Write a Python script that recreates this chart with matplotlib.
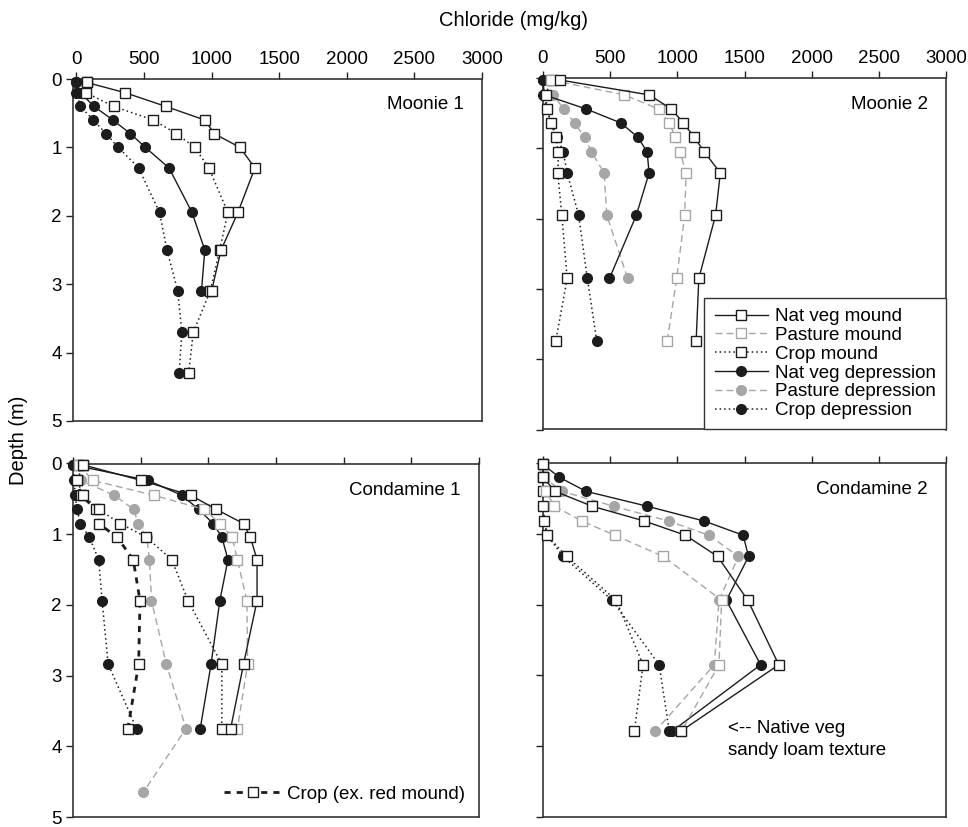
"""Chloride depth profiles — Moonie and Condamine sites, mound vs depression."""

import matplotlib

matplotlib.use("Agg")
import matplotlib.pyplot as plt

plt.rcParams["font.family"] = ["Liberation Sans", "DejaVu Sans"]
plt.rcParams["font.size"] = 13.5

# ---- data (chloride mg/kg vs depth m) ----
m1_depth = [0.05, 0.2, 0.4, 0.6, 0.8, 1.0, 1.3, 1.95, 2.5, 3.1, 3.7, 4.3]
m1_natveg_mound = [75, 360, 660, 950, 1020, 1210, 1320, 1195, 1070, 1000]
m1_crop_mound = [75, 70, 275, 570, 740, 875, 980, 1120, 1060, 990, 865, 830]
m1_natveg_dep = [0, 30, 130, 270, 400, 510, 685, 855, 950, 925]
m1_crop_dep = [0, 0, 30, 125, 220, 310, 460, 615, 670, 750, 780, 760]

m2_depth = [0.03, 0.24, 0.44, 0.64, 0.84, 1.05, 1.35, 1.95, 2.85, 3.74]
m2_natveg_mound = [130, 790, 955, 1045, 1125, 1200, 1320, 1285, 1160, 1140]
m2_pasture_mound = [60, 605, 860, 940, 985, 1020, 1065, 1055, 995, 925]
m2_crop_mound = [60, 20, 30, 60, 95, 115, 110, 140, 180, 95]
m2_natveg_dep = [0, 10, 320, 580, 705, 775, 790, 695, 495]
m2_pasture_dep = [30, 75, 155, 235, 310, 360, 455, 475, 630]
m2_crop_dep = [0, 0, 30, 60, 105, 150, 180, 265, 330, 400]

c1_depth = [0.02, 0.24, 0.45, 0.65, 0.85, 1.04, 1.36, 1.94, 2.84, 3.75, 4.65]
c1_natveg_mound = [75, 505, 870, 1060, 1260, 1310, 1360, 1360, 1260, 1165]
c1_pasture_mound = [45, 145, 600, 970, 1085, 1175, 1215, 1285, 1290, 1215]
c1_crop_mound = [75, 30, 75, 190, 350, 540, 730, 850, 1100, 1100]
c1_crop_exred = [40, 30, 60, 170, 190, 325, 445, 495, 485, 405]
c1_natveg_dep = [0, 555, 805, 930, 1035, 1100, 1145, 1085, 1020, 940]
c1_pasture_dep = [40, 60, 305, 450, 480, 545, 565, 580, 690, 835, 520]
c1_crop_dep = [0, 10, 15, 30, 55, 120, 190, 215, 260, 470]

c2_depth = [0.02, 0.2, 0.4, 0.61, 0.82, 1.02, 1.32, 1.94, 2.85, 3.79]
c2_natveg_mound = [0, 0, 90, 365, 755, 1060, 1300, 1525, 1755, 1025]
c2_pasture_mound = [0, 10, 20, 85, 290, 535, 895, 1330, 1310, 1030]
c2_crop_mound = [0, 0, 0, 0, 10, 30, 175, 545, 745, 680]
c2_natveg_dep = [0, 120, 320, 775, 1200, 1490, 1530, 1365, 1620, 960]
c2_pasture_dep = [0, 5, 140, 525, 935, 1235, 1455, 1310, 1275, 835]
c2_crop_dep = [0, 0, 0, 0, 10, 30, 150, 515, 865, 940]

legend_labels = ["Nat veg mound", "Pasture mound", "Crop mound",
                 "Nat veg depression", "Pasture depression", "Crop depression"]
x_ticks = [0, 500, 1000, 1500, 2000, 2500, 3000]
y_ticks = [0, 1, 2, 3, 4, 5]

BLACK = "#1c1c1c"
GREY = "#a6a6a6"
DOT = (0, (1, 2))
DASH = (0, (5, 3))

STYLES = {
    "natveg_mound": dict(color=BLACK, ls="-", lw=1.0, marker="s", mfc="white", mec=BLACK, ms=6.5),
    "pasture_mound": dict(color=GREY, ls=DASH, lw=1.0, marker="s", mfc="white", mec=GREY, ms=6.5),
    "crop_mound": dict(color=BLACK, ls=DOT, lw=1.1, marker="s", mfc="white", mec=BLACK, ms=6.5),
    "natveg_dep": dict(color=BLACK, ls="-", lw=1.0, marker="o", mfc=BLACK, mec=BLACK, ms=7),
    "pasture_dep": dict(color=GREY, ls=DASH, lw=1.0, marker="o", mfc=GREY, mec=GREY, ms=7),
    "crop_dep": dict(color=BLACK, ls=DOT, lw=1.1, marker="o", mfc=BLACK, mec=BLACK, ms=7),
    "crop_exred": dict(color=BLACK, ls=(0, (2.2, 2.2)), lw=2.0, marker="s", mfc="white",
                       mec=BLACK, ms=6.5),
}
ORDER = ["crop_dep", "pasture_dep", "natveg_dep", "crop_exred",
         "crop_mound", "pasture_mound", "natveg_mound"]

W, H = 968, 827


def _axes(fig, left, top, right, bottom):
    return fig.add_axes([left / W, 1 - bottom / H, (right - left) / W, (bottom - top) / H])


def draw_panel(ax, depth, series, title, xmin=0, xlabels=True, ylabels=True):
    for key in ORDER:
        if key not in series:
            continue
        vals = series[key]
        ax.plot(vals, depth[:len(vals)], clip_on=False, zorder=3, mew=1.0, **STYLES[key])
    ax.set_xlim(xmin, 3000)
    ax.set_ylim(5, 0)
    ax.set_xticks(x_ticks)
    ax.set_yticks(y_ticks)
    ax.xaxis.tick_top()
    ax.tick_params(direction="out", length=5, width=1.0, color="#222222",
                   labeltop=xlabels, labelbottom=False, labelleft=ylabels, pad=3)
    for sp in ax.spines.values():
        sp.set_linewidth(1.2)
        sp.set_color("#333333")
    ax.text(0.955, 0.925, title, transform=ax.transAxes, ha="right", va="center")


fig = plt.figure(figsize=(W / 100, H / 100), dpi=100)

ax_tl = _axes(fig, 73, 79, 482, 421)
draw_panel(ax_tl, m1_depth, {"natveg_mound": m1_natveg_mound, "crop_mound": m1_crop_mound,
                             "natveg_dep": m1_natveg_dep, "crop_dep": m1_crop_dep},
           "Moonie 1", xmin=-25)

ax_tr = _axes(fig, 543, 78, 946, 429.5)
draw_panel(ax_tr, m2_depth, {"natveg_mound": m2_natveg_mound, "pasture_mound": m2_pasture_mound,
                             "crop_mound": m2_crop_mound, "natveg_dep": m2_natveg_dep,
                             "pasture_dep": m2_pasture_dep, "crop_dep": m2_crop_dep},
           "Moonie 2", ylabels=False)

ax_bl = _axes(fig, 73, 463.5, 479, 817)
draw_panel(ax_bl, c1_depth, {"natveg_mound": c1_natveg_mound, "pasture_mound": c1_pasture_mound,
                             "crop_mound": c1_crop_mound, "crop_exred": c1_crop_exred,
                             "natveg_dep": c1_natveg_dep, "pasture_dep": c1_pasture_dep,
                             "crop_dep": c1_crop_dep},
           "Condamine 1", xlabels=False)

ax_br = _axes(fig, 543, 463, 946, 817)
draw_panel(ax_br, c2_depth, {"natveg_mound": c2_natveg_mound, "pasture_mound": c2_pasture_mound,
                             "crop_mound": c2_crop_mound, "natveg_dep": c2_natveg_dep,
                             "pasture_dep": c2_pasture_dep, "crop_dep": c2_crop_dep},
           "Condamine 2", xlabels=False, ylabels=False)

# legends
keys = ["natveg_mound", "pasture_mound", "crop_mound", "natveg_dep", "pasture_dep", "crop_dep"]
handles = [plt.Line2D([], [], mew=1.0, **STYLES[k]) for k in keys]
leg = ax_tr.legend(handles, legend_labels, loc="lower right", borderaxespad=0,
                   handlelength=2.85, handletextpad=0.35, labelspacing=0.09,
                   fancybox=False, edgecolor="#333333", framealpha=1, borderpad=0.55)
leg.get_frame().set_linewidth(1.0)

h_ex = plt.Line2D([], [], mew=1.0, **STYLES["crop_exred"])
ax_bl.legend([h_ex], ["Crop (ex. red mound)"], loc="lower right", frameon=False,
             handlelength=3.1, handletextpad=0.25, borderaxespad=0.35)

ax_br.text(0.459, 0.22, "<-- Native veg\nsandy loam texture", transform=ax_br.transAxes,
           ha="left", va="center", linespacing=1.4)

fig.text(0.53, 0.975, "Chloride (mg/kg)", ha="center", va="center", fontsize=14.5)
fig.text(0.019, 0.468, "Depth (m)", rotation=90, ha="center", va="center", fontsize=14.5)

fig.savefig("out.png", dpi=100)
